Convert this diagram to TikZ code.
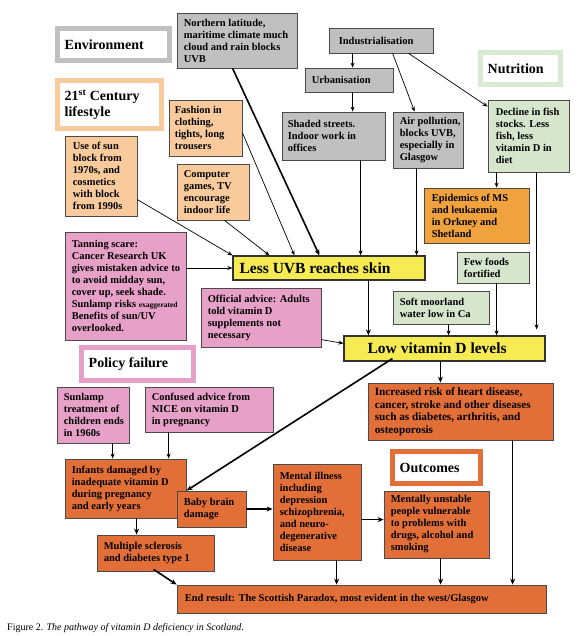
\documentclass[tikz,border=0pt]{standalone}
\usepackage{fontspec}
\setmainfont{Liberation Serif}
\usetikzlibrary{arrows.meta,calc}
\definecolor{cedge}{HTML}{4A4A4A}
\definecolor{cgray}{HTML}{C0C0C0}
\definecolor{cpeach}{HTML}{F9CB9C}
\definecolor{cgreen}{HTML}{D6E6CC}
\definecolor{cgreenf}{HTML}{D8EAD2}
\definecolor{cpink}{HTML}{E7A1C9}
\definecolor{corange}{HTML}{E36F38}
\definecolor{cepid}{HTML}{F0A23E}
\definecolor{cyellow}{HTML}{F6EB52}
\tikzset{
  box/.style={draw=cedge, line width=0.8pt, inner sep=0pt},
  graybox/.style={box, fill=cgray},
  peachbox/.style={box, fill=cpeach},
  greenbox/.style={box, fill=cgreen},
  pinkbox/.style={box, fill=cpink},
  orangebox/.style={box, fill=corange},
  epidbox/.style={box, fill=cepid},
  yellowbox/.style={box, fill=cyellow, line width=1.2pt, draw=black!80},
  framebox/.style={draw=#1, line width=5pt, fill=white, inner sep=0pt},
  txtbase/.style={anchor=west, align=left, inner sep=0pt},
  txt/.style={txtbase, xshift=#1, font=\bfseries\fontsize{10.5}{12}\selectfont},
  txt/.default=7pt,
  bigtxt/.style={txtbase, xshift=7pt, font=\bfseries\fontsize{11.2}{12.5}\selectfont},
  headtxt/.style={txtbase, xshift=#1, font=\bfseries\fontsize{15.5}{17}\selectfont},
  frametxt/.style={txtbase, xshift=9.5pt, font=\bfseries\fontsize{14}{16}\selectfont},
  thinarr/.style={line width=0.7pt, -{Stealth[length=5pt,width=4pt]}},
  thickarr/.style={line width=1.6pt, -{Stealth[length=6pt,width=5pt]}},
}
% \bx{name}{x1}{y1}{x2}{y2}{box style}{text style}{text}
\newcommand\bx[8]{%
  \pgfmathsetmacro\bxw{#4-#2}\pgfmathsetmacro\bxh{#5-#3}%
  \pgfmathsetmacro\bxcx{(#2+#4)/2}\pgfmathsetmacro\bxcy{(#3+#5)/2}%
  \node[#6, minimum width=\bxw pt, minimum height=\bxh pt,
    label={[#7]west:{#8}}] (#1) at (\bxcx,\bxcy) {};}
\begin{document}
\begin{tikzpicture}[x=1pt,y=-1pt]
\useasboundingbox[fill=white] (0,0) rectangle (580,636);
% frames
\bx{env}{57.5}{28.5}{169.5}{60.5}{framebox=cgray}{frametxt}{Environment}
\bx{c21}{57.5}{80.5}{161.5}{128.5}{framebox=cpeach}{frametxt}{21\textsuperscript{st} Century\\lifestyle}
\bx{nutri}{480.5}{52.5}{560.5}{84.5}{framebox=cgreenf}{frametxt}{Nutrition}
\bx{policy}{81.5}{347.5}{193.5}{380.5}{framebox=cpink}{frametxt}{Policy failure}
\bx{outc}{392.5}{451.5}{480.5}{483.5}{framebox=corange}{frametxt}{Outcomes}
% boxes
\bx{north}{177}{13}{297}{68}{graybox}{txt}{Northern latitude,\\maritime climate much\\cloud and rain blocks\\UVB}
\bx{indus}{329}{28}{433}{53}{graybox}{txt=10pt}{Industrialisation}
\bx{urban}{305}{68}{393}{92}{graybox}{txt}{Urbanisation}
\bx{shaded}{282}{112}{385}{160}{graybox}{txt=6pt}{Shaded streets.\\Indoor work in\\offices}
\bx{air}{393}{112}{463}{168}{graybox}{txt}{Air pollution,\\blocks UVB,\\especially in\\Glasgow}
\bx{decline}{488}{100}{569}{172}{greenbox}{txt=8pt}{Decline in fish\\stocks. Less\\fish, less\\vitamin D in\\diet}
\bx{epid}{424}{188}{529}{243}{epidbox}{txt=8pt}{Epidemics of MS\\and leukaemia\\in Orkney and\\Shetland}
\bx{fashion}{169}{100}{242}{156}{peachbox}{txt=6pt}{Fashion in\\clothing,\\tights, long\\trousers}
\bx{sunblock}{65}{136}{137}{216}{peachbox}{txt=8pt}{Use of sun\\block from\\1970s, and\\cosmetics\\with block\\from 1990s}
\bx{computer}{177}{164}{249}{220}{peachbox}{txt}{Computer\\games, TV\\encourage\\indoor life}
\bx{tanning}{65}{232}{186}{340}{pinkbox}{txt}{Tanning scare:\\Cancer Research UK\\gives mistaken advice to\\to avoid midday sun,\\cover up, seek shade.\\Sunlamp risks {\fontsize{7.5}{9}\selectfont exaggerated}\\Benefits of sun/UV\\overlooked.}
\bx{uvb}{233}{256}{425}{280}{yellowbox}{headtxt=7pt}{Less UVB reaches skin}
\bx{official}{201}{288}{321}{347}{pinkbox}{txt}{Official advice: Adults\\told vitamin D\\supplements not\\necessary}
\bx{few}{457}{252}{529}{283}{greenbox}{txt}{Few foods\\fortified}
\bx{soft}{393}{291}{489}{324}{greenbox}{txt}{Soft moorland\\water low in Ca}
\bx{lowd}{344}{336}{545}{361}{yellowbox}{headtxt=24pt}{Low vitamin D levels}
\bx{incr}{368}{383}{553}{440}{orangebox}{bigtxt}{Increased risk of heart disease,\\cancer, stroke and other diseases\\such as diabetes, arthritis, and\\osteoporosis}
\bx{sunlamp}{57}{387}{129}{443}{pinkbox}{txt}{Sunlamp\\treatment of\\children ends\\in 1960s}
\bx{confused}{145}{387}{273}{432}{pinkbox}{txt}{Confused advice from\\NICE on vitamin D\\in pregnancy}
\bx{infants}{65}{459}{186}{518}{orangebox}{txt}{Infants damaged by\\inadequate vitamin D\\during pregnancy\\and early years}
\bx{baby}{177}{491}{246}{527}{orangebox}{txt}{Baby brain\\damage}
\bx{mental}{273}{464}{361}{560}{orangebox}{txt}{Mental illness\\including\\depression\\schizophrenia,\\and neuro-\\degenerative\\disease}
\bx{unstable}{384}{491}{489}{558}{orangebox}{txt}{Mentally unstable\\people vulnerable\\to problems with\\drugs, alcohol and\\smoking}
\bx{ms}{97}{535}{214}{571}{orangebox}{txt}{Multiple sclerosis\\and diabetes type 1}
\bx{endr}{177}{585}{546}{613}{orangebox}{txt=8pt}{End result: The Scottish Paradox, most evident in the west/Glasgow}
\node[anchor=base west, inner sep=0pt, font=\fontsize{10}{12}\selectfont] (caption) at (7,630)
  {Figure 2. \textit{The pathway of vitamin D deficiency in Scotland}.};
% connectors
\draw[thickarr] ($(north.south west)+(56,0)$) -- ($(uvb.north west)+(87,0)$);
\draw[thinarr] ($(fashion.north east)+(0,33)$) -- ($(uvb.north west)+(62,0)$);
\draw[thinarr] ($(computer.south west)+(48,0)$) -- ($(uvb.north west)+(37,0)$);
\draw[thinarr] ($(sunblock.north east)+(0,64)$) -- (uvb.north west);
\draw[thinarr] (uvb.west -| tanning.east) -- (uvb.west);
\draw[thinarr] ($(shaded.south west)+(79,0)$) coordinate (s1) -- (s1 |- uvb.north);
\draw[thinarr] ($(air.south west)+(24,0)$) coordinate (s2) -- (s2 |- uvb.north);
\draw[thinarr] ($(indus.south west)+(24,0)$) coordinate (s3) -- (s3 |- urban.north);
\draw[thinarr] ($(urban.south west)+(48,0)$) coordinate (s4) -- (s4 |- shaded.north);
\draw[thinarr] ($(indus.south west)+(64,0)$) -- ($(air.north west)+(22,0)$);
\draw[thinarr] ($(indus.south west)+(80,0)$) -- ($(decline.north west)+(0,7)$);
\draw[thinarr] ($(decline.south west)+(9,0)$) coordinate (s5) -- (s5 |- epid.north);
\draw[thinarr] ($(decline.south west)+(49,0)$) coordinate (s6) -- ($(s6 |- lowd.north)+(0,-6)$);
\draw[thickarr] ($(uvb.south west)+(136,0)$) coordinate (s7) -- (s7 |- lowd.north);
\draw[thinarr] ($(soft.south west)+(56,0)$) coordinate (s8) -- (s8 |- lowd.north);
\draw[thinarr] ($(few.south west)+(40,0)$) coordinate (s9) -- (s9 |- lowd.north);
\draw[thinarr] ($(official.north east)+(0,52)$) -- ($(lowd.north west)+(0,8)$);
\draw[thickarr] ($(lowd.south west)+(97,0)$) coordinate (s10) -- (s10 |- incr.north);
\draw[thickarr] ($(lowd.south west)+(49,-3)$) -- ($(baby.north west)+(10,0)$);
\draw[thinarr] ($(sunlamp.south west)+(56,0)$) coordinate (s11) -- (s11 |- infants.north);
\draw[thinarr] ($(confused.south west)+(24,0)$) coordinate (s12) -- (s12 |- infants.north);
\draw[thickarr] ($(infants.south west)+(72,0)$) coordinate (s13) -- (s13 |- ms.north);
\draw[thickarr] (baby.east) -- (baby.east -| mental.west);
\draw[thickarr] ($(mental.north east)+(0,56)$) coordinate (s14) -- (s14 -| unstable.west);
\draw[thickarr] ($(ms.south west)+(57,-2)$) -- (endr.north west);
\draw[thickarr] ($(mental.south west)+(64,0)$) coordinate (s15) -- (s15 |- endr.north);
\draw[thickarr] ($(unstable.south west)+(57,0)$) coordinate (s16) -- (s16 |- endr.north);
\draw[thickarr] ($(incr.south west)+(145,0)$) coordinate (s17) -- (s17 |- endr.north);
\end{tikzpicture}
\end{document}
